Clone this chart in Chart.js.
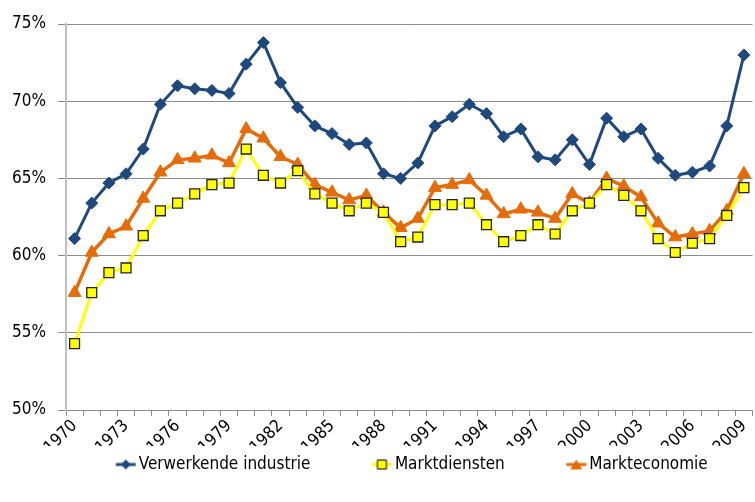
<!DOCTYPE html>
<html>
<head>
<meta charset="utf-8">
<script src="https://cdn.jsdelivr.net/npm/chart.js@4.4.0/dist/chart.umd.min.js"></script>
<style>
  html, body { margin: 0; padding: 0; background: #fff; overflow: hidden; }
  #wrap { width: 761px; height: 502px; position: relative; }
</style>
</head>
<body>
<div id="wrap"><canvas id="chart"></canvas></div>
<script>
// years 1970 - 2009
const years = [];
for (let y = 1970; y <= 2009; y++) years.push(String(y));

const verwerkendeIndustrie = [
  61.1, 63.4, 64.7, 65.3, 66.9, 69.8, 71.0, 70.8, 70.7, 70.5,
  72.4, 73.8, 71.2, 69.6, 68.4, 67.9, 67.2, 67.3, 65.3, 65.0,
  66.0, 68.4, 69.0, 69.8, 69.2, 67.7, 68.2, 66.4, 66.2, 67.5,
  65.9, 68.9, 67.7, 68.2, 66.3, 65.2, 65.4, 65.8, 68.4, 73.0
];

const marktdiensten = [
  54.3, 57.6, 58.9, 59.2, 61.3, 62.9, 63.4, 64.0, 64.6, 64.7,
  66.9, 65.2, 64.7, 65.5, 64.0, 63.4, 62.9, 63.4, 62.8, 60.9,
  61.2, 63.3, 63.3, 63.4, 62.0, 60.9, 61.3, 62.0, 61.4, 62.9,
  63.4, 64.6, 63.9, 62.9, 61.1, 60.2, 60.8, 61.1, 62.6, 64.4
];

const markteconomie = [
  57.6, 60.2, 61.4, 61.9, 63.7, 65.4, 66.2, 66.3, 66.5, 66.0,
  68.2, 67.6, 66.4, 65.9, 64.6, 64.1, 63.6, 63.9, 62.8, 61.8,
  62.4, 64.4, 64.6, 64.9, 63.9, 62.7, 63.0, 62.8, 62.4, 64.0,
  63.4, 65.0, 64.5, 63.8, 62.1, 61.2, 61.4, 61.6, 62.9, 65.3
];

const yTicks = [50, 55, 60, 65, 70, 75];

const BLUE = '#1f497d';
const YELLOW = '#ffff00';
const ORANGE = '#e46c0a';

Chart.defaults.font.family = "'Liberation Sans Narrow', 'DejaVu Sans Condensed', sans-serif";
Chart.defaults.color = '#000';

// legend swatch: short line with the marker in the middle,
// drawn at the right end of a wide box so it sits next to the label
const BOX_W = 66;
function swatch(color, style, fill, stroke) {
  const c = document.createElement('canvas');
  c.width = BOX_W + 12; c.height = 16;
  const g = c.getContext('2d');
  const x1 = c.width - 0.5, x0 = x1 - 20, cx = (x0 + x1) / 2, cy = 8;
  g.strokeStyle = color; g.lineWidth = 3;
  g.beginPath(); g.moveTo(x0, cy); g.lineTo(x1, cy); g.stroke();
  g.fillStyle = fill; g.strokeStyle = stroke; g.lineWidth = 1;
  g.beginPath();
  if (style === 'diamond') {
    g.moveTo(cx, cy - 5); g.lineTo(cx + 5, cy); g.lineTo(cx, cy + 5); g.lineTo(cx - 5, cy);
    g.closePath(); g.fill();
  } else if (style === 'square') {
    g.rect(cx - 4.5, cy - 4.5, 9, 9); g.fill(); g.stroke();
  } else {
    g.moveTo(cx, cy - 5); g.lineTo(cx + 6, cy + 5); g.lineTo(cx - 6, cy + 5);
    g.closePath(); g.fill();
  }
  return c;
}
const legendIcons = [
  swatch(BLUE, 'diamond', BLUE, BLUE),
  swatch(YELLOW, 'square', YELLOW, '#000'),
  swatch(ORANGE, 'triangle', ORANGE, ORANGE)
];

new Chart(document.getElementById('chart'), {
  type: 'line',
  data: {
    labels: years,
    datasets: [{
      label: 'Verwerkende industrie',
      data: verwerkendeIndustrie,
      borderColor: BLUE,
      backgroundColor: BLUE,
      borderWidth: 3,
      pointStyle: 'rectRot',
      pointRadius: 6,
      pointBorderWidth: 1,
      tension: 0
    }, {
      label: 'Marktdiensten',
      data: marktdiensten,
      borderColor: YELLOW,
      backgroundColor: YELLOW,
      borderWidth: 3,
      pointStyle: 'rect',
      pointRadius: 7,
      pointBorderColor: '#222',
      pointBorderWidth: 1.3,
      tension: 0
    }, {
      label: 'Markteconomie',
      data: markteconomie,
      borderColor: ORANGE,
      backgroundColor: ORANGE,
      borderWidth: 3.5,
      pointStyle: 'triangle',
      pointRadius: 7.5,
      pointBorderWidth: 1,
      tension: 0
    }]
  },
  options: {
    responsive: true,
    maintainAspectRatio: false,
    animation: false,
    // a little left padding nudges the legend right; y axis width makes up for it
    layout: { padding: { top: 24, right: 0, left: 11, bottom: 19 } },
    plugins: {
      tooltip: { enabled: false },
      legend: {
        position: 'bottom',
        labels: {
          usePointStyle: true,
          pointStyleWidth: BOX_W,
          padding: 10,
          font: { size: 17 },
          color: '#000',
          generateLabels: function(chart) {
            return chart.data.datasets.map((ds, i) => ({
              text: ds.label,
              pointStyle: legendIcons[i],
              fillStyle: ds.borderColor,
              strokeStyle: ds.borderColor,
              lineWidth: 0,
              hidden: false,
              datasetIndex: i
            }));
          }
        }
      }
    },
    scales: {
      x: {
        offset: true,
        grid: {
          offset: true,
          drawOnChartArea: false,
          drawTicks: true,
          tickLength: 6,
          color: '#8c8c8c'
        },
        border: { display: true, color: '#8c8c8c', width: 1 },
        ticks: {
          autoSkip: false,
          minRotation: 45,
          maxRotation: 45,
          padding: 0,
          font: { size: 17 },
          color: '#000',
          callback: function(val, i) { return i % 3 === 0 ? this.getLabelForValue(val) : ''; }
        },
        afterFit: function(scale) { scale.height = 36; }
      },
      y: {
        min: 50,
        max: 75,
        afterBuildTicks: function(scale) { scale.ticks = yTicks.map(v => ({ value: v })); },
        grid: { color: '#8c8c8c', tickLength: 8, lineWidth: 1 },
        border: { display: true, color: '#c0c0c0', width: 2 },
        ticks: {
          padding: 12,
          font: { size: 17 },
          color: '#000',
          callback: v => v + '%'
        },
        afterFit: function(scale) { scale.width = 55; }
      }
    }
  }
});
</script>
</body>
</html>
